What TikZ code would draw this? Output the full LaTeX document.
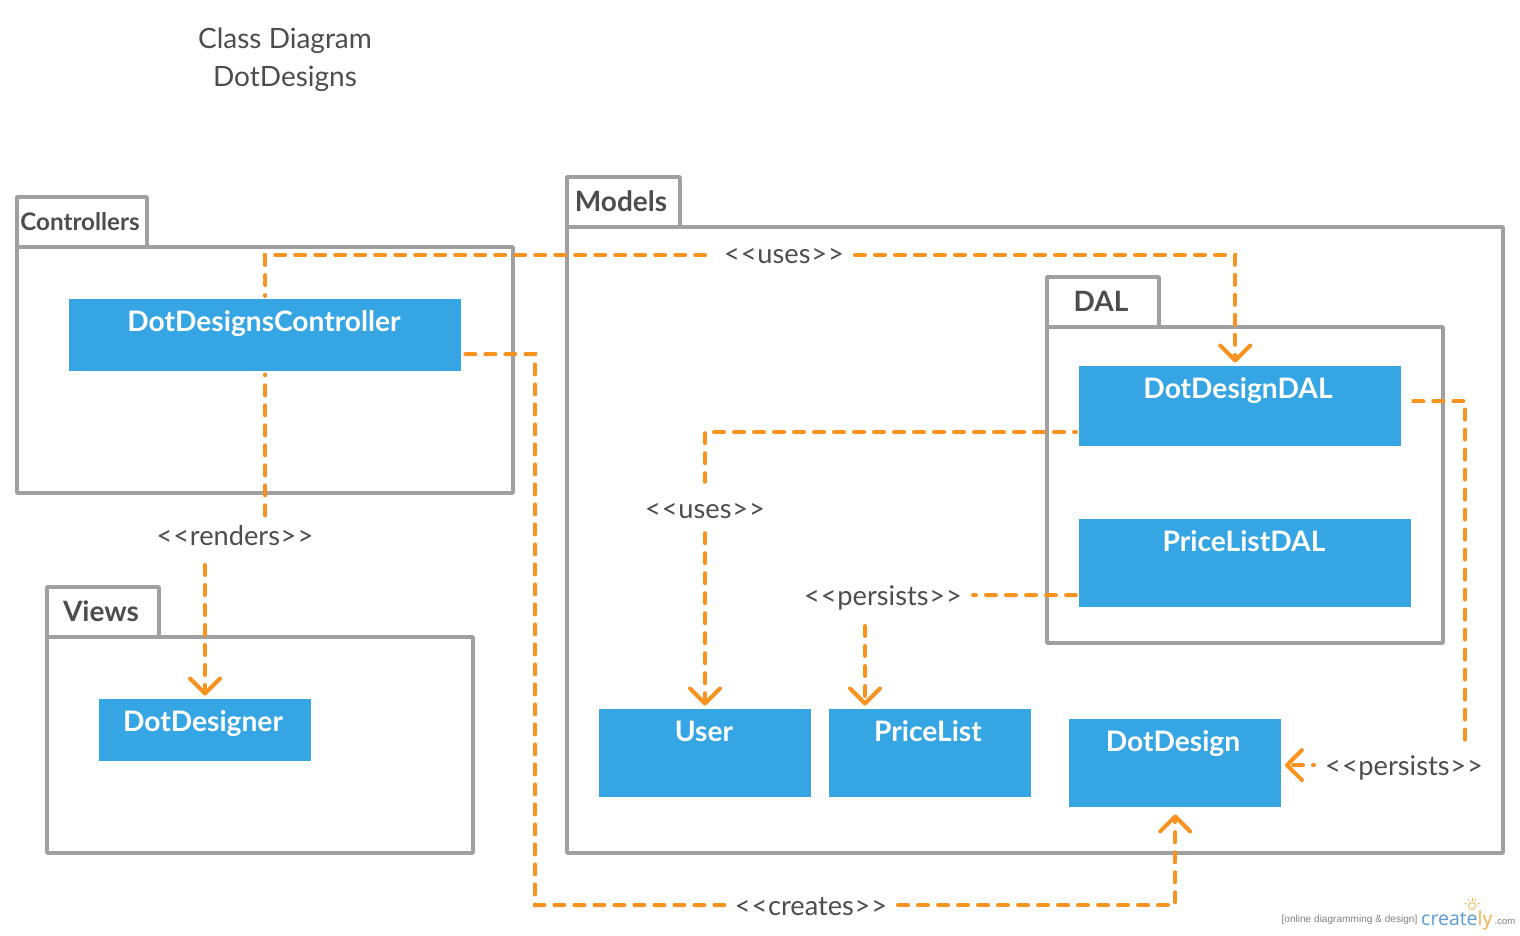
\documentclass[tikz,border=0pt]{standalone}
\usepackage{fontspec}
\setmainfont{Lato}
\newfontfamily\logofont{Liberation Sans}
\newfontfamily\logobig{Open Sans}
\usetikzlibrary{arrows.meta,calc}
\definecolor{pkgline}{HTML}{A0A0A0}
\definecolor{txtgrey}{HTML}{4D4D4D}
\definecolor{boxblue}{HTML}{36A5E4}
\definecolor{dep}{HTML}{F7931E}
\definecolor{logoblue}{HTML}{5B9BD5}
\definecolor{logoyel}{HTML}{F5B041}
\newcommand{\ltlt}{<\kern1pt<\kern0.7pt}
\newcommand{\gtgt}{\kern0.7pt>\kern1pt>}
\tikzset{
  x=1pt,y=-1pt,
  pkg/.style={draw=pkgline,line width=3.5pt,line join=round},
  pkglabel/.style={text=txtgrey,font=\fontsize{#1}{#1}\selectfont\bfseries,inner sep=0pt},
  cls/.style={fill=boxblue,draw=none,anchor=north west,inner sep=0pt},
  clstext/.style={text=white,font=\fontsize{28.2}{28}\selectfont\bfseries,inner sep=0pt,anchor=base},
  stereo/.style={text=txtgrey,font=\fontsize{27.2}{27}\selectfont,inner sep=0pt,text height=19pt,text depth=6pt},
  dline/.style={draw=dep,line width=4pt,dash pattern=on 10pt off 10pt,line cap=round,line join=miter},
  darrow/.style={dline,-{Straight Barb[length=15pt,width=30pt,line width=4pt,round]},shorten >=3.5pt},
  titletext/.style={text=txtgrey,font=\fontsize{28}{28}\selectfont,inner sep=0pt},
}
\begin{document}
\begin{tikzpicture}
\useasboundingbox (0,0) rectangle (1520,935);
% title
\node[titletext] (title) at (285,40.5) {Class Diagram};
\node[titletext] (title2) at (285,78.5) {DotDesigns};
% packages
\draw[pkg] (17,247) -- (17,197) -- (147,197) -- (147,247);
\draw[pkg] (17,247) rectangle (513,493);
\draw[pkg] (47,637) -- (47,587) -- (159,587) -- (159,637);
\draw[pkg] (47,637) rectangle (473,853);
\draw[pkg] (567,227) -- (567,177) -- (680,177) -- (680,227);
\draw[pkg] (567,227) rectangle (1503,853);
\draw[pkg] (1047,327) -- (1047,277) -- (1159,277) -- (1159,327);
\draw[pkg] (1047,327) rectangle (1443,643);
\node[pkglabel=24.2] (lc) at (80,222) {Controllers};
\node[pkglabel=28] (lm) at (621,201) {Models};
\node[pkglabel=28] (ld) at (1101,301) {DAL};
\node[pkglabel=28] (lv) at (101,611) {Views};
% classes
\node[cls,minimum width=392pt,minimum height=72pt] (ctrl) at (69,299) {};
\node[cls,minimum width=322pt,minimum height=80pt] (dal) at (1079,366) {};
\node[cls,minimum width=332pt,minimum height=88pt] (pldal) at (1079,519) {};
\node[cls,minimum width=212pt,minimum height=88pt] (user) at (599,709) {};
\node[cls,minimum width=202pt,minimum height=88pt] (pl) at (829,709) {};
\node[cls,minimum width=212pt,minimum height=88pt] (dd) at (1069,719) {};
\node[cls,minimum width=212pt,minimum height=62pt] (ddr) at (99,699) {};
\node[clstext] (tctrl) at (264,331) {DotDesignsController};
\node[clstext] (tdal) at (1238,398) {DotDesignDAL};
\node[clstext] (tpldal) at (1244,551) {PriceListDAL};
\node[clstext] (tuser) at (704,741) {User};
\node[clstext] (tpl) at (928,741) {PriceList};
\node[clstext] (tdd) at (1173,751) {DotDesign};
\node[clstext] (tddr) at (203,731) {DotDesigner};
% stereotypes
\node[stereo] (u1) at (784,256.5) {\ltlt uses\gtgt};
\node[stereo] (u2) at (705,511.5) {\ltlt uses\gtgt};
\node[stereo] (r) at (235,538.5) {\ltlt renders\gtgt};
\node[stereo] (p1) at (883,598.5) {\ltlt persists\gtgt};
\node[stereo] (p2) at (1404,769) {\ltlt persists\gtgt};
\node[stereo] (c) at (811,908.5) {\ltlt creates\gtgt};
% connectors
\coordinate (a1) at ($(dal.north)+(-5,0)$);
\coordinate (c1) at ($(ctrl.east)+(0,19)$);
\coordinate (d1) at ($(dal.west)+(0,26)$);
\coordinate (pl1) at ($(pldal.west)+(0,32)$);
\coordinate (d2) at ($(dal.east)+(0,-5)$);
\coordinate (ddw) at ($(dd.east)+(0,2)$);
\coordinate (c2) at ($(dd.south)+(0,3.5)$);
\coordinate (ur) at ($(u2.north)+(0,-17)$);
\draw[dline,shorten <=3pt,dash phase=9pt] (ctrl.north) |- (705,255);
\draw[darrow] (855,255) -| (a1);
\draw[dline,shorten <=4pt] (c1) -- (535,354) |- (725,905);
\draw[darrow] (898,905) -| (c2);
\draw[dline,shorten <=3pt,dash phase=9pt] (ctrl.south) -- ($(r.north -| ctrl.south)+(0,-1)$);
\draw[darrow] (205,565) -- (205,699);
\draw[dline,shorten <=3pt,dash phase=8pt] (d1) -| (ur);
\draw[darrow] ($(u2.south)+(0,9)$) -- (user.north -| u2);
\draw[dline,shorten <=3pt] (pl1) -- (973,595);
\draw[darrow] (865,626) -- (865,709);
\draw[dline,shorten <=3pt,dash phase=11pt] (d2) -| (1465,740);
\draw[darrow,dash phase=9pt] (1314,765) -- (ddw);
% logo
\node[text=gray,font=\logofont\fontsize{10.1}{10}\selectfont,inner sep=0pt] (lg1) at (1349.5,920) {[online diagramming \& design]};
\node[font=\logobig\fontsize{19.5}{19}\selectfont,inner sep=0pt,anchor=base west] (lg2) at (1421,925) {\textcolor{logoblue}{create}\textcolor{logoyel}{ly}};
\node[text=gray,font=\logofont\fontsize{9.5}{9}\selectfont,inner sep=0pt,anchor=base west] (lg3) at (1494.5,924) {.com};
\draw[logoyel,line width=0.8pt] (1472,906) circle (3.5);
\foreach \a in {20,60,90,120,160}{\draw[logoyel,line width=0.7pt] ($(1472,906)+(\a:5.5 and -5.5)$) -- ($(1472,906)+(\a:8 and -8)$);}
\end{tikzpicture}
\end{document}
